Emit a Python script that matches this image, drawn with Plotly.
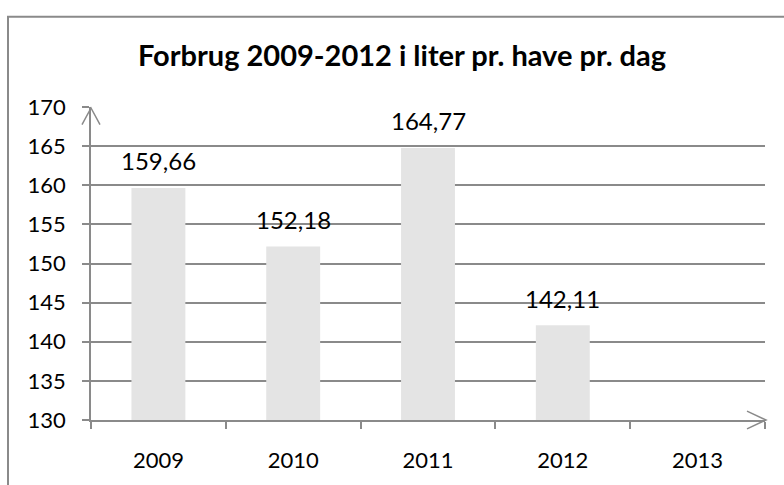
import plotly.graph_objects as go

years = ["2009", "2010", "2011", "2012", "2013"]
values = [159.66, 152.18, 164.77, 142.11, None]
title = "Forbrug 2009-2012 i liter pr. have pr. dag"
y_ticks = [130, 135, 140, 145, 150, 155, 160, 165, 170]

W, H = 784, 485
L, R, T, B = 91, 19, 107, 59
pw, ph = W - L - R, H - T - B

def px(x):
    return (x - L) / pw

def py(y):
    return (H - B - y) / ph

GRAY = "#8a8a8a"
FONT = "Lato"

fig = go.Figure()
fig.add_trace(go.Bar(
    x=years, y=values, width=0.4,
    marker=dict(color="#e4e4e4", line=dict(width=0)),
    hoverinfo="skip",
))

annotations = []
for i, v in enumerate(values):
    if v is None:
        continue
    annotations.append(dict(
        x=i, y=v, xref="x", yref="y", text=f"{v:.2f}".replace(".", ","),
        showarrow=False, yshift=27, font=dict(family=FONT, size=24, color="#000"),
    ))

shapes = [
    # outer border
    dict(type="rect", xref="paper", yref="paper",
         x0=px(8), x1=px(W + 10), y0=py(15), y1=py(H + 10),
         line=dict(color=GRAY, width=2), fillcolor="rgba(0,0,0,0)", layer="below"),
    # y-axis arrowhead
    dict(type="path", xref="paper", yref="paper",
         path=f"M {px(82)} {py(125)} L {px(91)} {py(108)} L {px(100)} {py(125)}",
         line=dict(color=GRAY, width=1.5)),
    # x-axis arrowhead
    dict(type="path", xref="paper", yref="paper",
         path=f"M {px(747)} {py(417)} L {px(766)} {py(426)} L {px(747)} {py(435)}",
         line=dict(color=GRAY, width=1.5)),
]

fig.update_layout(
    width=W, height=H,
    margin=dict(l=L, r=R, t=T, b=B),
    paper_bgcolor="white", plot_bgcolor="white",
    showlegend=False,
    title=dict(text=f"<b>{title}</b>", x=402 / W, xanchor="center",
               y=1 - 56 / H, yanchor="middle",
               font=dict(family=FONT, size=29, color="#000")),
    font=dict(family=FONT, size=22, color="#000"),
    annotations=annotations,
    shapes=shapes,
)
fig.update_xaxes(
    type="category", range=[-0.5, 4.5], tickson="boundaries",
    showline=True, linecolor=GRAY, linewidth=1.5,
    ticks="outside", ticklen=7, tickcolor=GRAY, tickwidth=1.5,
    showgrid=False, ticklabelstandoff=20,
    tickfont=dict(family=FONT, size=22, color="#000"),
)
fig.update_yaxes(
    range=[130, 170], tickvals=y_ticks,
    showline=True, linecolor=GRAY, linewidth=1.5,
    ticks="outside", ticklen=7, tickcolor=GRAY, tickwidth=1.5,
    showgrid=True, gridcolor=GRAY, gridwidth=1.5, zeroline=False,
    ticklabelstandoff=12,
    tickfont=dict(family=FONT, size=22, color="#000"),
)

fig.write_html("out.html", config={"displayModeBar": False},
               post_script="document.body.style.margin='0';")
